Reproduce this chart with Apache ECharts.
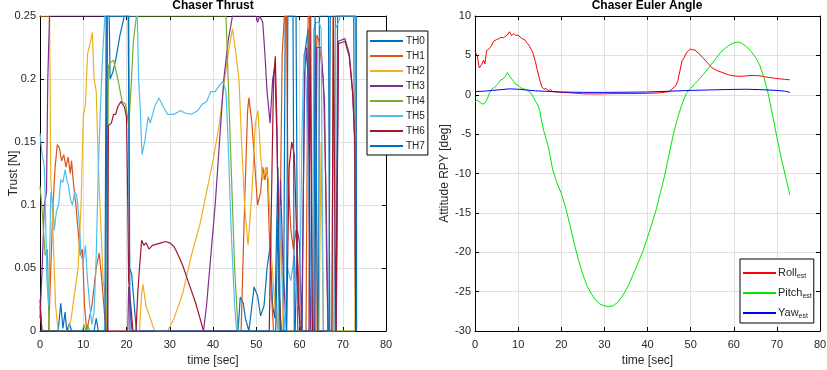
<!DOCTYPE html>
<html>
<head>
<meta charset="utf-8">
<script src="https://cdn.jsdelivr.net/npm/echarts@6/dist/echarts.min.js"></script>
<style>html,body{margin:0;padding:0;background:#fff;}#c{width:827px;height:370px;}</style>
</head>
<body>
<div id="c"></div>
<script>
// ---- Data: Chaser Thrust (time [sec], thrust [N]) ----
const thrustNames = ['TH0','TH1','TH2','TH3','TH4','TH5','TH6','TH7'];
const th0 = [[0,0],[4.2,0],[4.8,0.022],[5.3,0.002],[5.8,0.015],[6.2,0],[6.8,0.006],[7.3,0],[12.5,0],[13,0.01],[13.5,0],[15.2,0],[15.5,0.25],[16,0.25],[16.2,0.2],[16.8,0.205],[17.5,0.215],[18.5,0.235],[19.5,0.25],[20.4,0.25],[20.7,0.05],[21.2,0.045],[21.8,0.02],[22.3,0],[45.8,0],[46.3,0.027],[47,0.022],[47.5,0.01],[48.3,0],[49,0.02],[49.5,0.035],[50.3,0.028],[51,0.012],[51.8,0.02],[52.5,0.05],[53.2,0.067],[53.8,0.02],[54.3,0.01],[55,0.13],[55.6,0],[56.3,0],[56.7,0.25],[59.2,0.25],[59.6,0],[60.6,0],[61.2,0.22],[62,0.24],[62.6,0],[64.4,0],[64.6,0.25],[66.7,0.25],[67,0],[68.5,0],[68.8,0.25],[73,0.25],[73.05,0]];
const th1 = [[0,0.02],[0.5,0],[2,0],[2.5,0.05],[3,0.1],[3.5,0.13],[4,0.148],[4.5,0.145],[5,0.135],[5.5,0.14],[6,0.13],[6.5,0.138],[7,0.125],[7.3,0.135],[7.8,0.115],[8.3,0.1],[8.8,0.08],[9.3,0.06],[9.8,0.065],[10.3,0.02],[10.8,0],[12,0.02],[13,0.05],[13.7,0.062],[14.3,0.04],[15,0.01],[15.5,0],[46.5,0],[47.3,0.1],[48,0.175],[48.3,0.185],[49,0.165],[49.7,0.13],[50.3,0.1],[51,0.11],[51.5,0.13],[52,0.12],[52.5,0.13],[53,0.08],[53.5,0.03],[54,0],[55,0],[55.5,0.08],[56,0.22],[56.5,0.25],[57,0.25],[57.3,0.13],[58,0.08],[58.6,0.065],[59.2,0.08],[59.7,0.05],[60.2,0],[61.5,0],[62,0.25],[62.6,0.25],[63,0],[63.8,0],[64,0.235],[64.5,0.23],[65.5,0.2],[66.2,0.1],[66.6,0],[68,0],[68.3,0.25],[72.5,0.25],[73,0]];
const th2 = [[0,0.25],[2.2,0.25],[2.5,0.12],[2.8,0.1],[3.2,0.06],[3.6,0.02],[4.2,0],[6.5,0],[7.2,0.01],[8,0.03],[8.8,0.05],[9.5,0.1],[10,0.17],[10.5,0.18],[11,0.22],[11.7,0.23],[12.1,0.237],[12.5,0.2],[13,0.19],[13.5,0.13],[14,0.09],[14.6,0.04],[15,0.03],[15.6,0],[23,0],[23.5,0.03],[23.8,0.037],[24.5,0.02],[25.5,0.01],[26.5,0],[29.5,0],[31,0.01],[33,0.03],[35,0.06],[37,0.085],[38.5,0.11],[40,0.135],[41.5,0.165],[42.5,0.195],[43.5,0.22],[44.5,0.24],[45.3,0.22],[46,0.2],[46.6,0.15],[47.3,0.1],[48.1,0.068],[49,0.11],[49.8,0.165],[50.4,0.175],[51,0.14],[51.5,0.12],[52.2,0.13],[52.8,0.12],[53.5,0.06],[54.3,0.02],[55,0],[55.8,0.09],[56.2,0],[64.5,0],[65,0.15],[65.5,0],[67.5,0],[67.8,0.25],[68.2,0],[72.8,0],[73,0.25],[73.1,0]];
const th3 = [[0,0.01],[0.5,0.05],[1,0.1],[1.5,0.11],[1.8,0.2],[2.2,0.25],[15.5,0.25],[15.7,0],[20.3,0],[20.5,0.035],[21,0.01],[21.3,0],[37.8,0],[38.5,0.02],[39.5,0.06],[40.5,0.1],[41.5,0.15],[42.5,0.2],[43.5,0.23],[44.5,0.25],[50,0.25],[50.3,0.245],[50.8,0.25],[51.5,0.245],[52,0.22],[52.5,0.19],[53.2,0.165],[53.8,0.2],[54.3,0.21],[54.8,0.15],[55.3,0.05],[55.6,0.12],[56.2,0.05],[57,0],[59,0],[59.5,0.08],[60,0.07],[60.5,0],[61.2,0.2],[61.6,0.225],[62,0.2],[62.5,0],[63.5,0],[64,0.225],[65,0.225],[65.8,0.18],[66.3,0.05],[66.6,0],[68.5,0],[69,0.23],[70.5,0.232],[71.5,0.22],[72.3,0.19],[72.8,0.15],[73,0]];
const th4 = [[0,0.115],[0.4,0.1],[0.8,0.08],[1.2,0.06],[1.7,0.065],[2.1,0],[9.8,0],[10.2,0.005],[10.6,0],[11,0.005],[11.5,0],[15.5,0],[15.8,0.21],[16.3,0.213],[17,0.215],[18,0.2],[19,0.182],[19.8,0.18],[20.5,0.163],[21,0.19],[21.6,0.23],[22.3,0.25],[43,0.25],[43.5,0.2],[44.2,0.13],[45,0.05],[45.8,0],[73,0]];
const th5 = [[0,0.157],[0.5,0.14],[1,0.13],[1.3,0.09],[1.6,0.04],[2,0.02],[2.5,0.11],[3,0.1],[3.3,0.08],[3.8,0.095],[4.3,0.1],[4.8,0.12],[5.3,0.118],[5.8,0.128],[6.2,0.12],[6.6,0.115],[7,0.105],[7.5,0.1],[8,0.11],[8.5,0.108],[9,0.09],[9.5,0.06],[10,0.055],[10.5,0.068],[11,0.04],[11.5,0.02],[12,0.005],[12.5,0.015],[13,0.06],[13.5,0.13],[14,0.18],[14.5,0.22],[15,0.25],[22.5,0.25],[22.8,0.2],[23.2,0.175],[23.6,0.14],[24.2,0.15],[25,0.17],[25.5,0.165],[26.5,0.178],[27.5,0.185],[28.5,0.178],[29.5,0.172],[31,0.172],[32.5,0.175],[33.5,0.173],[35,0.172],[36.5,0.175],[37.5,0.18],[38.5,0.182],[39.5,0.19],[40.5,0.19],[41.5,0.195],[42.3,0.198],[43,0.19],[43.5,0.15],[44.2,0.08],[45,0.02],[45.5,0],[55,0],[55.5,0.1],[56,0.04],[56.5,0],[57.2,0.05],[58,0.04],[58.8,0.06],[59.5,0.02],[60,0.02],[60.6,0.16],[61,0.22],[61.5,0.2],[62,0.13],[62.5,0.05],[63,0],[63.3,0.24],[63.8,0.245],[64.5,0.245],[65,0.24],[65.5,0],[68,0],[68.3,0.24],[69,0.245],[69.5,0.25],[72.8,0.25],[73,0]];
const th6 = [[0,0.025],[0.4,0],[15.6,0],[15.8,0.163],[16.5,0.165],[17,0.172],[17.5,0.172],[18,0.178],[18.7,0.182],[19.5,0.178],[20,0.17],[20.3,0.1],[20.5,0.04],[21,0.02],[21.5,0],[22.2,0],[22.6,0.03],[23,0.05],[23.5,0.072],[24,0.068],[24.5,0.07],[25.2,0.065],[26,0.068],[27,0.069],[28,0.07],[29,0.071],[30,0.07],[31,0.067],[32,0.06],[33,0.052],[34,0.042],[35,0.032],[36,0.022],[37,0.01],[37.8,0],[53,0],[53.5,0.1],[54,0.2],[54.4,0.218],[54.8,0.16],[55.3,0.03],[55.8,0],[57,0],[57.6,0.13],[58.2,0.15],[58.8,0.14],[59.3,0.08],[59.8,0.02],[60.2,0],[62.2,0],[62.4,0.25],[62.8,0.25],[63,0],[67.5,0],[67.8,0.25],[68.2,0.25],[68.4,0],[69,0.228],[70.5,0.23],[71.5,0.218],[72.3,0.188],[72.8,0.15],[73,0]];
const th7 = [[0,0],[15,0],[15.3,0.25],[20.5,0.25],[20.8,0],[54.5,0],[55,0.09],[55.5,0],[57,0],[57.3,0.25],[58.5,0.25],[58.8,0],[63.3,0],[63.6,0.25],[64,0.25],[64.2,0],[66.8,0],[67.1,0.25],[73.1,0.25],[73.2,0]];
const thrustSeries = [th0, th1, th2, th3, th4, th5, th6, th7];
const thrustColors = ['#0072BD','#D95319','#EDB120','#7E2F8E','#77AC30','#4DBEEE','#A2142F','#0072BD'];

// ---- Data: Chaser Euler Angle (time [sec], angle [deg]) ----
const eulerNames = ['Roll','Pitch','Yaw'];
const roll = [[0,5.5],[0.5,5.0],[1,3.4],[1.5,3.8],[2,4.4],[2.3,3.9],[2.7,5.6],[3.2,5.8],[3.8,6.2],[4.3,6.8],[5,7.0],[5.5,7.1],[6,7.3],[6.5,7.2],[7,7.4],[7.5,7.6],[8,8.0],[8.5,7.5],[9,7.8],[9.5,7.5],[10,7.6],[10.5,7.3],[11,7.1],[11.5,7.0],[12,6.6],[12.5,6.3],[13,5.8],[13.5,5.2],[14,4.2],[14.5,3.0],[15,1.9],[15.5,1.0],[16,0.7],[16.5,0.8],[17,0.5],[17.5,0.7],[18,0.4],[19,0.35],[20,0.3],[22,0.25],[25,0.12],[28,0.1],[30,0.12],[33,0.15],[36,0.15],[40,0.18],[43,0.25],[45,0.4],[46,0.9],[46.5,1.1],[47,1.7],[47.5,3.0],[48,4.3],[48.5,4.7],[49,5.3],[49.5,5.6],[50,5.8],[50.5,5.7],[51,5.7],[51.5,5.4],[52,5.2],[53,4.6],[54,4.0],[55,3.4],[56,3.1],[57,2.9],[58,2.7],[59,2.5],[60,2.4],[61,2.35],[62,2.35],[63,2.4],[64,2.45],[65,2.45],[66,2.4],[67,2.3],[68,2.2],[69,2.15],[70,2.05],[71,2.0],[72,1.95],[73,1.9]];
const pitch = [[0,-0.9],[0.5,-0.7],[1,-0.9],[1.5,-1.1],[2,-1.2],[2.5,-0.9],[3,-0.3],[3.5,0.4],[4,0.8],[4.5,0.9],[5,1.2],[5.5,1.5],[6,1.9],[6.5,2.0],[7,2.3],[7.5,2.8],[8,2.4],[8.5,2.0],[9,1.7],[9.5,1.3],[10,1.2],[10.5,0.9],[11,0.8],[11.5,0.7],[12,0.6],[12.5,0.4],[13,0.2],[13.5,-0.3],[14,-0.8],[14.5,-1.2],[15,-2.0],[15.5,-3.5],[16,-4.7],[16.5,-5.6],[17,-6.6],[18,-9.5],[19,-11.2],[20,-12.5],[21,-14.3],[22,-16.5],[23,-18.9],[24,-21.0],[25,-22.8],[26,-24.3],[27,-25.3],[28,-26.1],[29,-26.6],[30,-26.8],[31,-26.9],[32,-26.8],[33,-26.4],[34,-25.7],[35,-24.8],[36,-23.7],[37,-22.4],[38,-21.1],[39,-19.8],[40,-18.1],[41,-16.4],[42,-14.6],[43,-12.4],[44,-10.2],[45,-7.6],[46,-5.0],[47,-2.9],[48,-1.2],[49,0.2],[50,0.8],[51,1.4],[52,2.0],[53,2.6],[54,3.3],[55,4.0],[56,4.7],[57,5.4],[58,5.9],[59,6.3],[60,6.6],[61,6.7],[62,6.5],[63,6.1],[64,5.5],[65,4.8],[66,3.8],[67,2.2],[68,0.1],[69,-2.6],[70,-5.4],[71,-8.0],[72,-10.4],[73,-12.7]];
const yaw = [[0,0.4],[2,0.45],[4,0.55],[6,0.65],[8,0.75],[10,0.7],[12,0.6],[14,0.5],[16,0.45],[18,0.4],[20,0.35],[25,0.3],[30,0.3],[35,0.32],[40,0.35],[45,0.45],[50,0.55],[55,0.62],[60,0.68],[63,0.7],[66,0.65],[70,0.55],[72,0.45],[73,0.3]];
const eulerSeries = [roll, pitch, yaw];
const eulerColors = ['#FF0000','#00E600','#0000FF'];

const FONT = 'Liberation Sans, Arial, sans-serif';
const TXT = '#262626';
const GRIDC = '#e0e0e0';

function mkX(gi, min, max, iv) {
  return [
    { gridIndex: gi, type: 'value', min: min, max: max, interval: iv, position: 'bottom',
      name: 'time [sec]', nameLocation: 'middle', nameGap: 24, nameMoveOverlap: false,
      nameTextStyle: { fontFamily: FONT, fontSize: 12, color: TXT },
      axisLine: { show: true, onZero: false, lineStyle: { color: '#000', width: 1 } },
      axisTick: { show: true, inside: true, length: 4, lineStyle: { color: '#000' } },
      axisLabel: { fontFamily: FONT, fontSize: 11, color: TXT, margin: 8 },
      splitLine: { show: true, lineStyle: { color: GRIDC, width: 1 } } },
    { gridIndex: gi, type: 'value', min: min, max: max, interval: iv, position: 'top',
      axisLine: { show: true, onZero: false, lineStyle: { color: '#000', width: 1 } },
      axisTick: { show: true, inside: true, length: 4, lineStyle: { color: '#000' } },
      axisLabel: { show: false }, splitLine: { show: false } }
  ];
}
function mkY(gi, min, max, iv, name, gap) {
  return [
    { gridIndex: gi, type: 'value', min: min, max: max, interval: iv, position: 'left',
      name: name, nameLocation: 'middle', nameGap: gap, nameMoveOverlap: false,
      nameTextStyle: { fontFamily: FONT, fontSize: 12, color: TXT },
      axisLine: { show: true, onZero: false, lineStyle: { color: '#000', width: 1 } },
      axisTick: { show: true, inside: true, length: 4, lineStyle: { color: '#000' } },
      axisLabel: { fontFamily: FONT, fontSize: 11, color: TXT, margin: 4 },
      splitLine: { show: true, lineStyle: { color: GRIDC, width: 1 } } },
    { gridIndex: gi, type: 'value', min: min, max: max, interval: iv, position: 'right',
      axisLine: { show: true, onZero: false, lineStyle: { color: '#000', width: 1 } },
      axisTick: { show: true, inside: true, length: 4, lineStyle: { color: '#000' } },
      axisLabel: { show: false }, splitLine: { show: false } }
  ];
}

const series = [];
thrustSeries.forEach((d, i) => {
  series.push({ name: thrustNames[i], type: 'line', xAxisIndex: 0, yAxisIndex: 0, data: d,
    showSymbol: false, symbol: 'none', animation: false, clip: true,
    lineStyle: { color: thrustColors[i], width: 1.2 }, itemStyle: { color: thrustColors[i] } });
});
eulerSeries.forEach((d, i) => {
  series.push({ name: eulerNames[i], type: 'line', xAxisIndex: 2, yAxisIndex: 2, data: d,
    showSymbol: false, symbol: 'none', animation: false,
    lineStyle: { color: eulerColors[i], width: 1 }, itemStyle: { color: eulerColors[i] } });
});

const chart = echarts.init(document.getElementById('c'), null, { renderer: 'canvas' });
chart.setOption({
  animation: false,
  backgroundColor: '#fff',
  title: [
    { text: 'Chaser Thrust', left: 213, top: 0, padding: 0, textAlign: 'center',
      textStyle: { fontFamily: FONT, fontSize: 12, fontWeight: 'bold', color: '#000' } },
    { text: 'Chaser Euler Angle', left: 647, top: 0, padding: 0, textAlign: 'center',
      textStyle: { fontFamily: FONT, fontSize: 12, fontWeight: 'bold', color: '#000' } }
  ],
  grid: [
    { left: 40, right: 441, top: 16, bottom: 39, containLabel: false, outerBoundsMode: 'none' },
    { left: 475, right: 7, top: 16, bottom: 39, containLabel: false, outerBoundsMode: 'none' }
  ],
  xAxis: [...mkX(0, 0, 80, 10), ...mkX(1, 0, 80, 10)],
  yAxis: [...mkY(0, 0, 0.25, 0.05, 'Trust [N]', 20), ...mkY(1, -30, 10, 5, 'Attitude RPY [deg]', 24)],
  legend: [
    { data: thrustNames, orient: 'vertical', left: 367, top: 31, icon: 'rect',
      itemWidth: 33, itemHeight: 2, itemGap: 5, padding: [5, 3, 4, 3],
      backgroundColor: '#fff', borderColor: '#000', borderWidth: 1, borderRadius: 0,
      textStyle: { fontFamily: FONT, fontSize: 10, color: TXT, padding: [0, 0, 0, -2] }, selectedMode: false },
    { data: eulerNames, orient: 'vertical', left: 740, top: 259, icon: 'rect',
      itemWidth: 33, itemHeight: 2, itemGap: 6, padding: [7, 2, 3, 3],
      backgroundColor: '#fff', borderColor: '#000', borderWidth: 1, borderRadius: 0,
      selectedMode: false,
      formatter: function (n) { return '{a|' + n + '}{s|est}'; },
      textStyle: { fontFamily: FONT, fontSize: 11, color: TXT, padding: [0, 0, 0, -3],
        rich: { a: { fontFamily: FONT, fontSize: 11, color: TXT, lineHeight: 14 },
                s: { fontFamily: FONT, fontSize: 7, color: TXT, padding: [7, 0, 0, 0], lineHeight: 14 } } } }
  ],
  series: series
});
</script>
</body>
</html>
